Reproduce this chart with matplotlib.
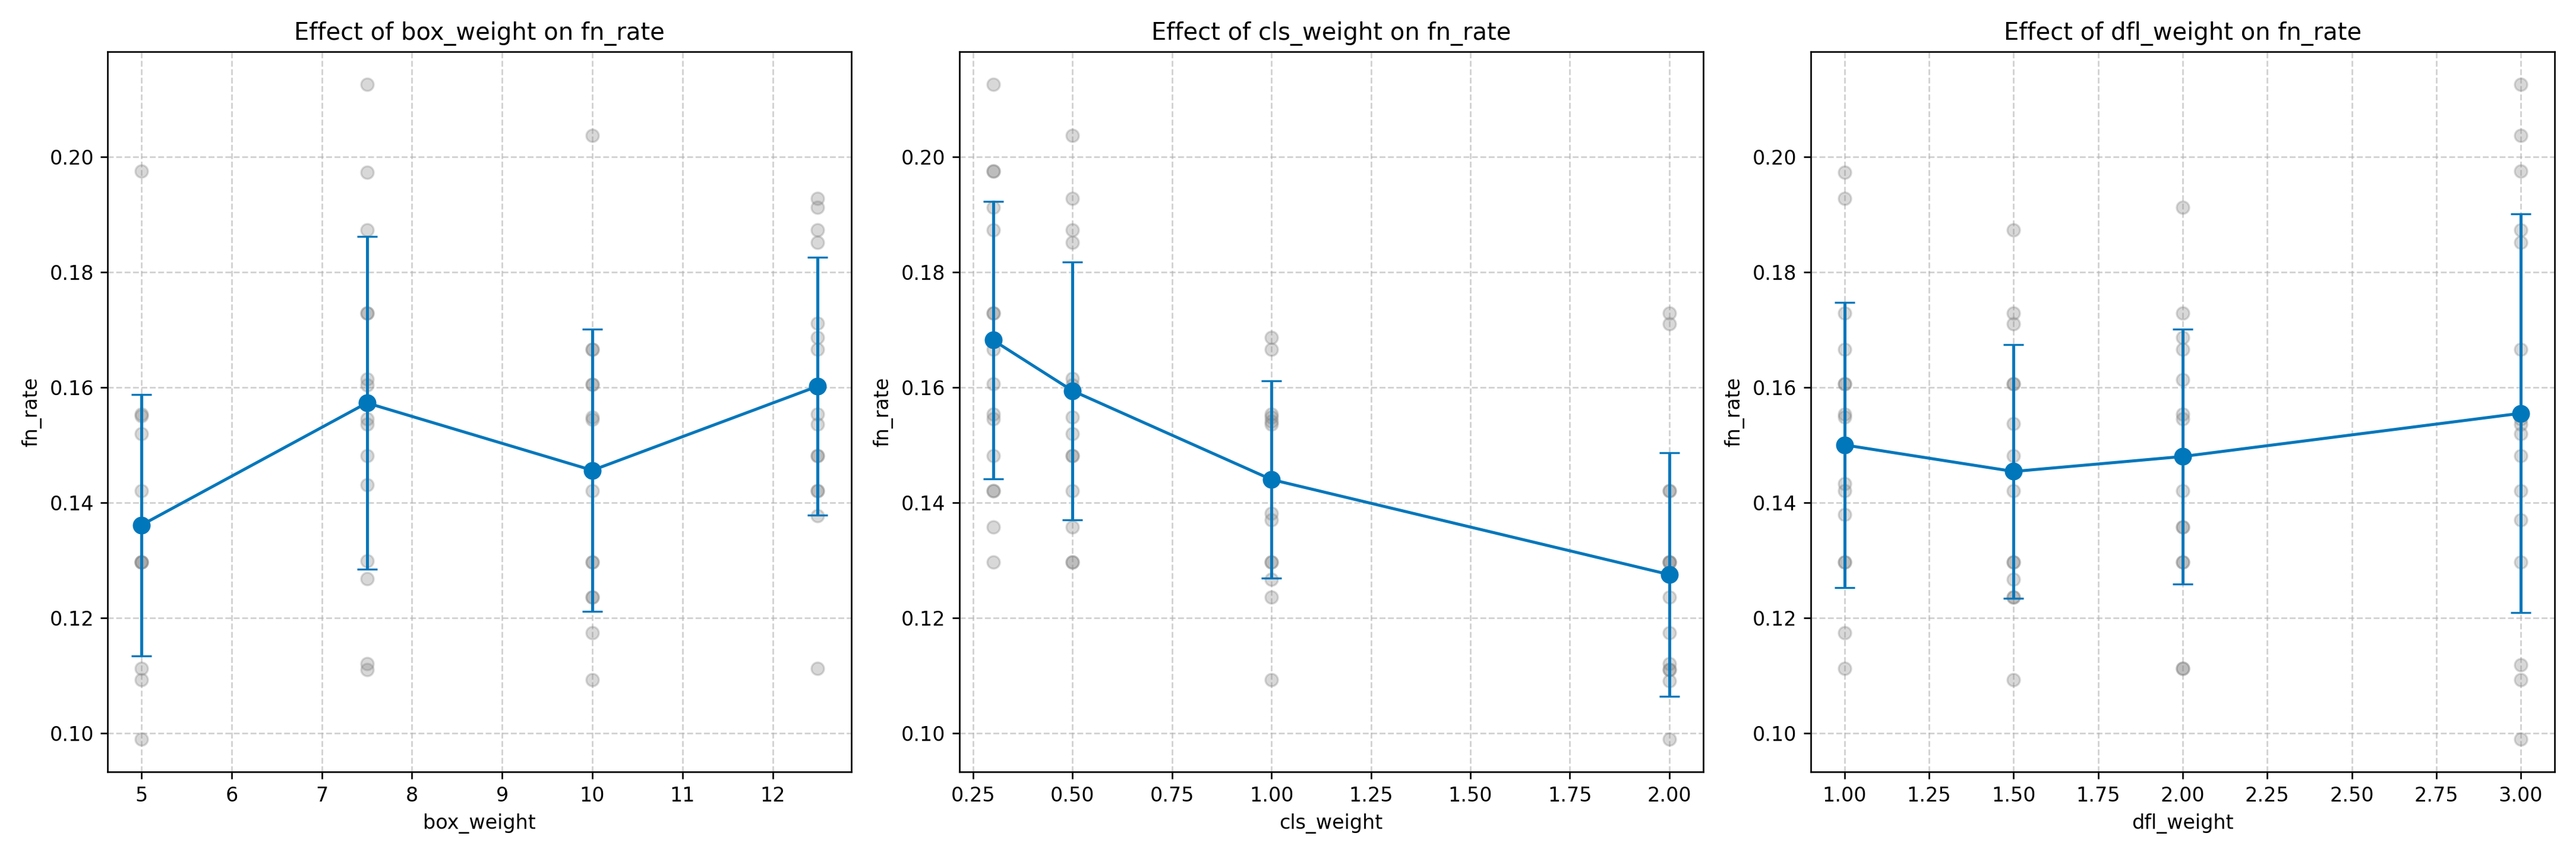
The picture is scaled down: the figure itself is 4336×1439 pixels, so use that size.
import numpy as np
import matplotlib
matplotlib.use("Agg")
import matplotlib.pyplot as plt

target = "fn_rate"
blue = "#0077BB"

# box_weight
box_levels = [5, 7.5, 10, 12.5]
box_points = [
    [0.1975, 0.1554, 0.1550, 0.1519, 0.1420, 0.1297, 0.1297, 0.1297, 0.1112, 0.1092, 0.0989],
    [0.2126, 0.1973, 0.1873, 0.1729, 0.1729, 0.1614, 0.1604, 0.1545, 0.1536, 0.1481, 0.1431, 0.1299, 0.1268, 0.1120, 0.1110],
    [0.2037, 0.1666, 0.1666, 0.1605, 0.1605, 0.1548, 0.1544, 0.1420, 0.1297, 0.1297, 0.1236, 0.1236, 0.1174, 0.1092],
    [0.1928, 0.1913, 0.1873, 0.1852, 0.1711, 0.1687, 0.1666, 0.1554, 0.1536, 0.1481, 0.1481, 0.1420, 0.1420, 0.1377, 0.1112],
]
box_mean = [0.1361, 0.1573, 0.1456, 0.1602]
box_std = [0.0227, 0.0289, 0.0245, 0.0224]

# cls_weight
cls_levels = [0.3, 0.5, 1.0, 2.0]
cls_points = [
    [0.2126, 0.1975, 0.1975, 0.1913, 0.1873, 0.1729, 0.1729, 0.1666, 0.1606, 0.1554, 0.1545, 0.1481, 0.1420, 0.1420, 0.1358, 0.1297],
    [0.2037, 0.1928, 0.1873, 0.1852, 0.1615, 0.1604, 0.1548, 0.1519, 0.1481, 0.1481, 0.1420, 0.1358, 0.1297, 0.1297],
    [0.1687, 0.1666, 0.1554, 0.1548, 0.1541, 0.1536, 0.1381, 0.1370, 0.1297, 0.1297, 0.1267, 0.1236, 0.1092],
    [0.1729, 0.1710, 0.1420, 0.1420, 0.1297, 0.1297, 0.1297, 0.1236, 0.1174, 0.1120, 0.1110, 0.1110, 0.1090, 0.0989],
]
cls_mean = [0.1682, 0.1594, 0.1440, 0.1275]
cls_std = [0.0241, 0.0224, 0.0171, 0.0212]

# dfl_weight
dfl_levels = [1.0, 1.5, 2.0, 3.0]
dfl_points = [
    [0.1973, 0.1928, 0.1729, 0.1666, 0.1606, 0.1606, 0.1554, 0.1548, 0.1433, 0.1420, 0.1379, 0.1297, 0.1297, 0.1174, 0.1112],
    [0.1873, 0.1729, 0.1710, 0.1606, 0.1606, 0.1537, 0.1481, 0.1454, 0.1420, 0.1297, 0.1297, 0.1267, 0.1236, 0.1236, 0.1092],
    [0.1913, 0.1729, 0.1687, 0.1666, 0.1613, 0.1554, 0.1545, 0.1420, 0.1358, 0.1358, 0.1297, 0.1297, 0.1112, 0.1112],
    [0.2126, 0.2037, 0.1975, 0.1873, 0.1852, 0.1666, 0.1545, 0.1536, 0.1519, 0.1481, 0.1420, 0.1370, 0.1297, 0.1118, 0.1092, 0.0989],
]
dfl_mean = [0.1500, 0.1454, 0.1480, 0.1555]
dfl_std = [0.0248, 0.0220, 0.0221, 0.0346]

params = [
    ("box_weight", box_levels, box_points, box_mean, box_std),
    ("cls_weight", cls_levels, cls_points, cls_mean, cls_std),
    ("dfl_weight", dfl_levels, dfl_points, dfl_mean, dfl_std),
]

fig, axes = plt.subplots(1, 3, figsize=(4336 / 240, 1439 / 240), dpi=240)

for ax, (name, levels, points, means, stds) in zip(axes, params):
    for lv, pts in zip(levels, points):
        ax.scatter(np.full(len(pts), lv), pts, color="gray", alpha=0.3, s=40, zorder=2)
    ax.errorbar(levels, means, yerr=stds, fmt="-o", color=blue, capsize=5,
                markersize=8, linewidth=1.5, zorder=3)
    ax.set_title(f"Effect of {name} on {target}")
    ax.set_xlabel(name)
    ax.set_ylabel(target)
    ax.grid(True, linestyle="--", alpha=0.6)

plt.tight_layout()
plt.savefig("out.png", dpi=240)
